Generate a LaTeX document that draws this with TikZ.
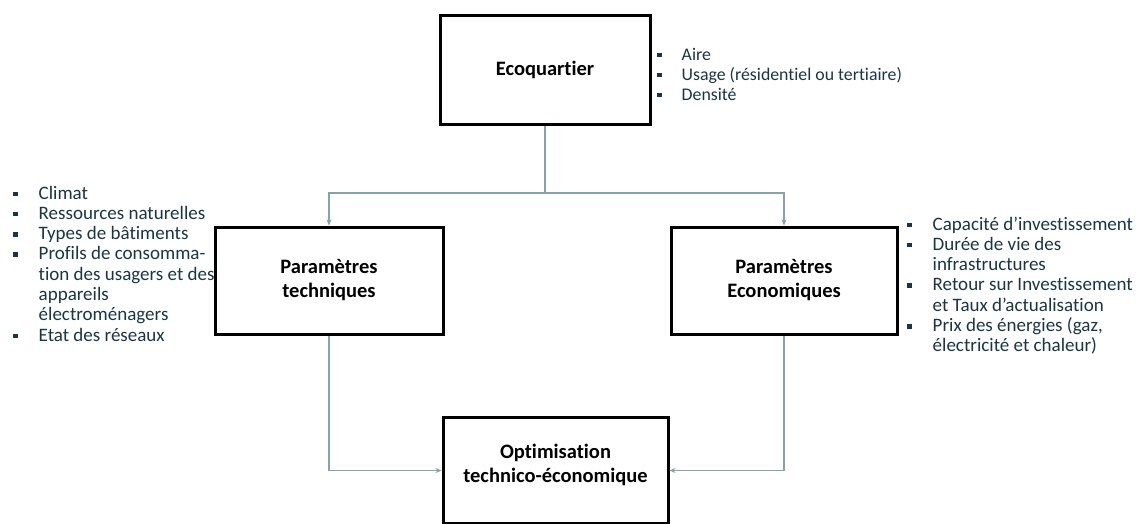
\documentclass[tikz,border=0pt]{standalone}
\usepackage{fontspec}
\setmainfont{Carlito}[Ligatures=NoCommon]
\usetikzlibrary{arrows.meta}
\definecolor{linkc}{HTML}{86A3AC}
\definecolor{listc}{HTML}{1A3644}
\newcommand{\bul}{\raisebox{3pt}{\rule{4.5pt}{4.5pt}}}
\tikzset{
  stagebox/.style={draw=black, line width=3pt, fill=white, inner sep=0pt, font=\fontsize{20.5}{24}\selectfont\bfseries, align=center},
  stagetext/.style={inner sep=0pt, font=\fontsize{20.5}{24}\selectfont\bfseries, align=center},
  link/.style={draw=linkc, line width=1.6pt, -{Stealth[length=6pt,width=5pt,fill=black]}},
  plainlink/.style={draw=linkc, line width=1.6pt},
  listnode/.style={anchor=base west, inner sep=0pt, text=listc, font=\fontsize{19}{20.3}\selectfont, align=left}
}
\begin{document}
\begin{tikzpicture}[x=1pt,y=-1pt]
\useasboundingbox[fill=white] (0,0) rectangle (1140,523);
% lists
\node[listnode, font=\fontsize{17.8}{20}\selectfont] (ecolist) at (657,60) {\begin{tabular}[t]{@{}l@{\hspace{20pt}}l@{}}
\bul & Aire\\ \bul & Usage (résidentiel ou tertiaire)\\ \bul & Densité\end{tabular}};
\node[listnode] (techlist) at (13,199) {\begin{tabular}[t]{@{}l@{\hspace{21pt}}l@{}}
\bul & Climat\\ \bul & Ressources naturelles\\ \bul & Types de bâtiments\\ \bul & Profils de consomma-\\
 & tion des usagers et des\\ & appareils\\ & électroménagers\\ \bul & Etat des réseaux\end{tabular}};
\node[listnode] (ecolist2) at (907,230) {\begin{tabular}[t]{@{}l@{\hspace{21pt}}l@{}}
\bul & Capacité d’investissement\\ \bul & Durée de vie des\\ & infrastructures\\ \bul & Retour sur Investissement\\
 & et Taux d’actualisation\\ \bul & Prix des énergies (gaz,\\ & électricité et chaleur)\end{tabular}};
% boxes
\node[stagebox, minimum width=210pt, minimum height=109pt] (eco) at (545,69.5) {Ecoquartier};
\node[stagebox, minimum width=228pt, minimum height=107pt] (tech) at (329,280.5) {Paramètres\\techniques};
\node[stagebox, minimum width=226pt, minimum height=107pt] (econ) at (784,280.5) {Paramètres\\Economiques};
\node[stagebox, minimum width=225pt, minimum height=106pt] (opt) at (555.5,470.5) {};
\node[stagetext] (optlabel) at (555.5,465) {Optimisation\\technico-économique};
% connectors
\coordinate (split) at (eco.south |- 0,193);
\draw[plainlink] (eco.south) -- (split);
\draw[link] (split) -| (tech.north);
\draw[link] (split) -| (econ.north);
\draw[link] (tech.south) |- (opt.west);
\draw[link] (econ.south) |- (opt.east);
\end{tikzpicture}
\end{document}
